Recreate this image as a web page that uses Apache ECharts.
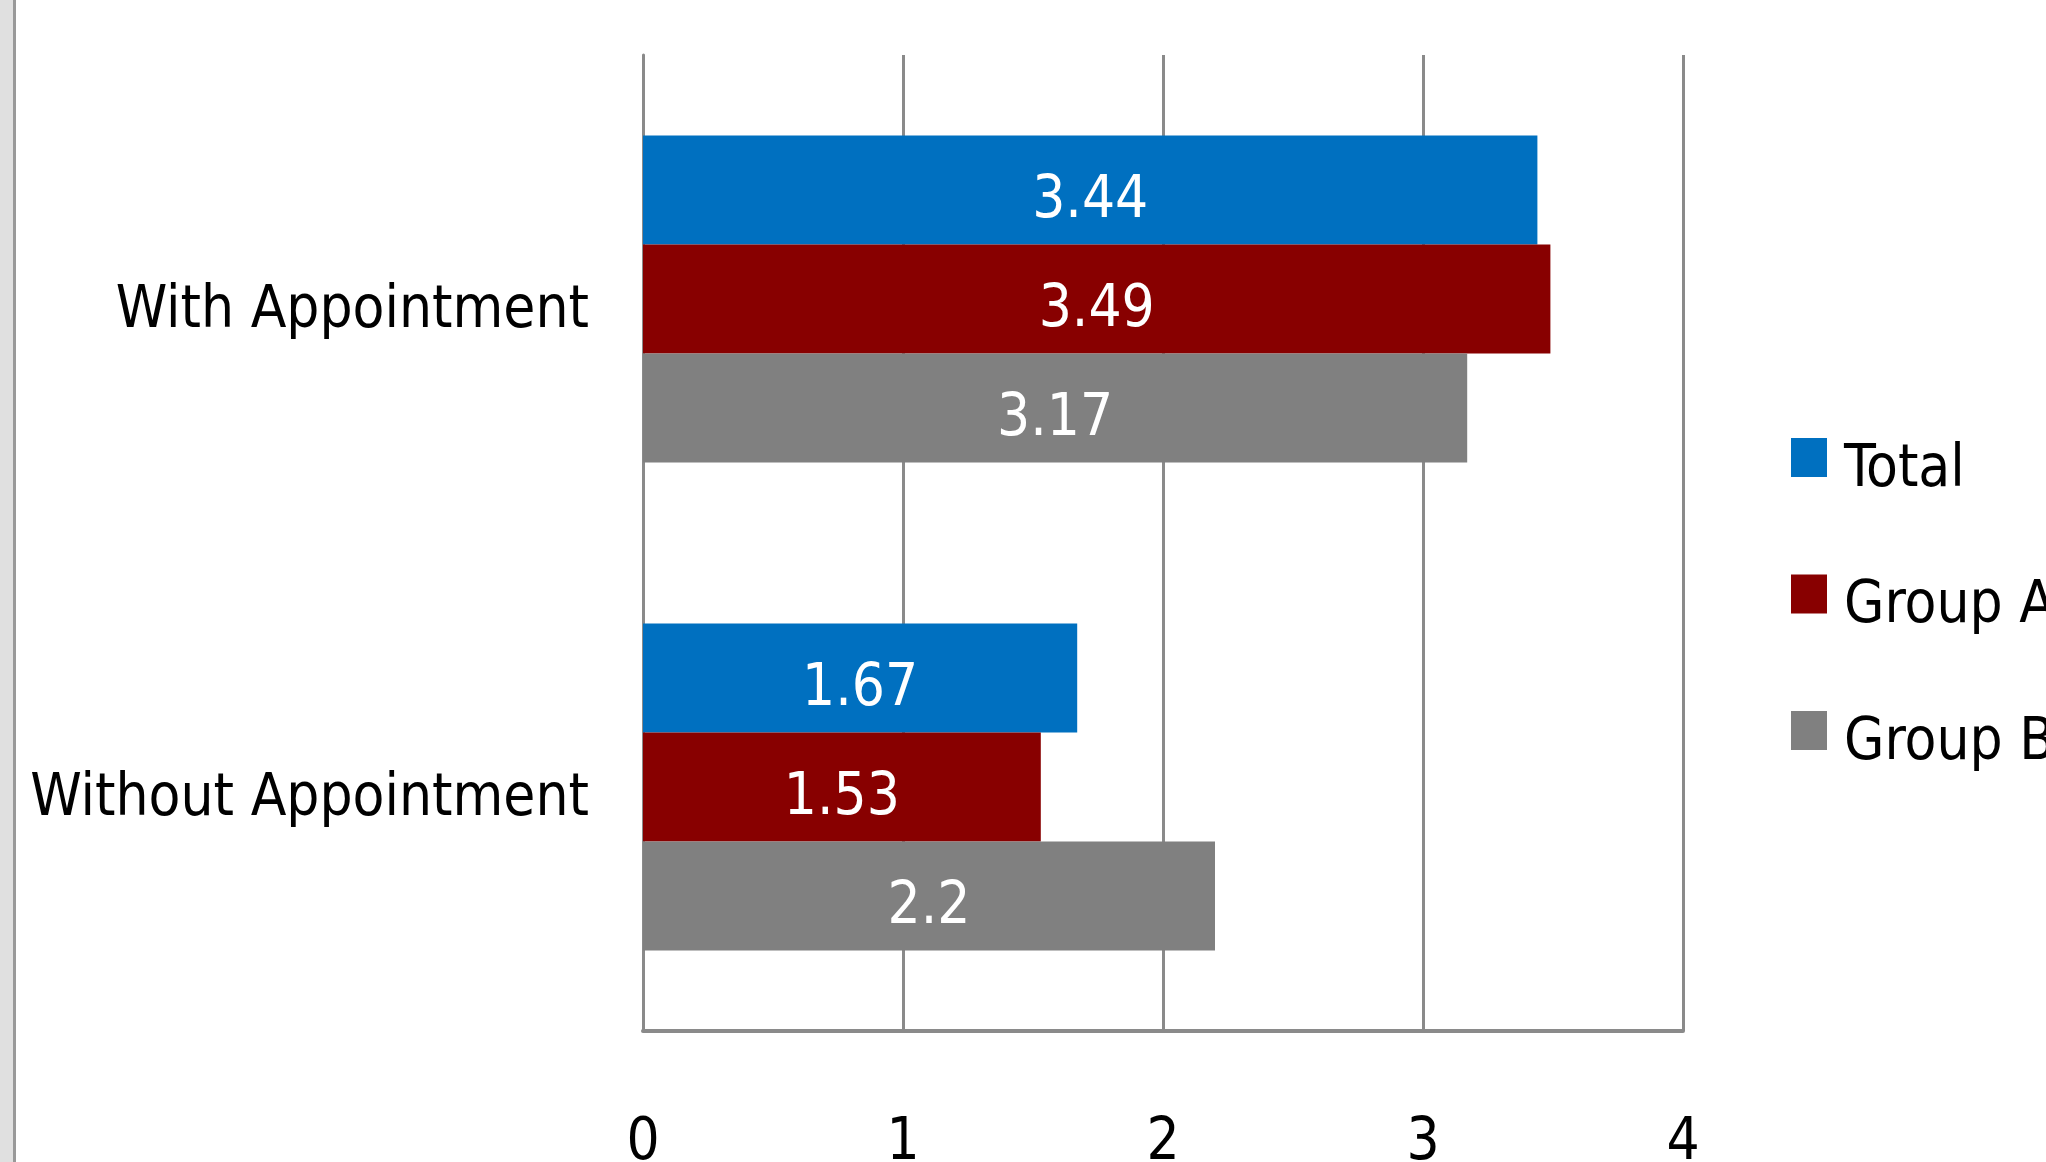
<!DOCTYPE html>
<html><head><meta charset="utf-8">
<script src="https://cdn.jsdelivr.net/npm/echarts@6/dist/echarts.min.js"></script>
<style>html,body{margin:0;padding:0;background:#fff}#c{width:2046px;height:1162px}</style>
</head><body><div id="c"></div>
<script>
const categories = ['With Appointment', 'Without Appointment'];
const seriesNames = ['Total', 'Group A', 'Group B'];
const totalValues = [3.44, 1.67];
const groupAValues = [3.49, 1.53];
const groupBValues = [3.17, 2.2];
const xTicks = [0, 1, 2, 3, 4];
const colors = ['#0070C0', '#880000', '#808080'];

const FONT = '"Liberation Sans Narrow", "DejaVu Sans Condensed", sans-serif';
const FS = 58;
const chart = echarts.init(document.getElementById('c'));
const values = [totalValues, groupAValues, groupBValues];
chart.setOption({
  animation: false,
  backgroundColor: '#fff',
  graphic: [
    {type: 'rect', left: 0, top: 0, shape: {width: 13, height: 1162}, style: {fill: '#e0e0e0'}, silent: true},
    {type: 'rect', left: 13, top: 0, shape: {width: 3, height: 1162}, style: {fill: '#999999'}, silent: true}
  ],
  grid: {left: 643, right: 363, top: 55, bottom: 131, containLabel: false, outerBoundsMode: 'none'},
  legend: {
    orient: 'vertical', left: 1786, top: 433,
    itemWidth: 36, itemHeight: 39, itemGap: 75,
    icon: 'rect',
    formatter: n => '{t|' + n + '}',
    textStyle: {fontFamily: FONT, fontSize: FS, color: '#000',
      rich: {t: {fontFamily: FONT, fontSize: FS, color: '#000', padding: [26, 0, 0, 12]}}},
    data: seriesNames
  },
  xAxis: {
    type: 'value', min: xTicks[0], max: xTicks[xTicks.length - 1], interval: 1,
    axisLine: {show: true, lineStyle: {color: '#8a8a8a', width: 4}},
    axisTick: {show: false},
    splitLine: {show: true, lineStyle: {color: '#8a8a8a', width: 3}},
    axisLabel: {fontFamily: FONT, fontSize: FS, color: '#000', margin: 84,
      formatter: v => String(v)}
  },
  yAxis: {
    type: 'category', data: categories, inverse: true,
    axisLine: {show: true, lineStyle: {color: '#8a8a8a', width: 3}},
    axisTick: {show: false},
    axisLabel: {fontFamily: FONT, fontSize: FS, color: '#000', margin: 54,
      formatter: v => '{c|' + v + '}',
      rich: {c: {fontFamily: FONT, fontSize: FS, color: '#000', padding: [26, 0, 0, 0]}}}
  },
  series: seriesNames.map((name, i) => ({
    name, type: 'bar', data: values[i],
    barGap: '0%', barCategoryGap: '33%',
    itemStyle: {color: colors[i]},
    label: {show: true, position: 'inside', color: '#fff', fontFamily: FONT, fontSize: FS, offset: [0, 12]}
  }))
});
</script></body></html>
